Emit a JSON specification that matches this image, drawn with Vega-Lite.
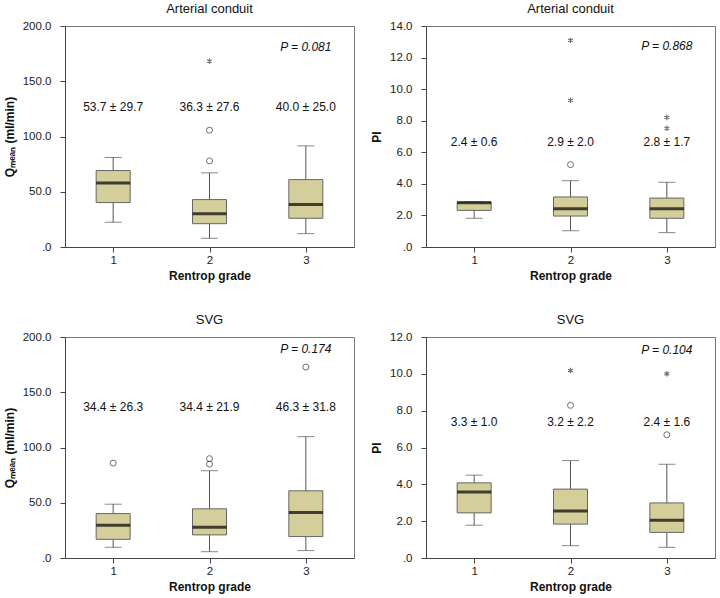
{
"$schema": "https://vega.github.io/schema/vega-lite/v6.json",
"padding": {"left": 2, "top": 2, "right": 5, "bottom": 5},
"background": "white",
"datasets": {
"boxes": [
{"panel":"A","grade":"1","low":22.4,"q1":40.2,"median":58.0,"q3":69.2,"high":81.0},
{"panel":"A","grade":"2","low":7.9,"q1":21.1,"median":30.2,"q3":42.9,"high":67.1},
{"panel":"A","grade":"3","low":12.1,"q1":26.0,"median":38.4,"q3":61.0,"high":91.5},
{"panel":"B","grade":"1","low":1.82,"q1":2.32,"median":2.80,"q3":2.85,"high":2.85},
{"panel":"B","grade":"2","low":1.03,"q1":1.96,"median":2.43,"q3":3.17,"high":4.20},
{"panel":"B","grade":"3","low":0.91,"q1":1.82,"median":2.43,"q3":3.10,"high":4.10},
{"panel":"C","grade":"1","low":9.7,"q1":16.9,"median":29.7,"q3":40.2,"high":48.7},
{"panel":"C","grade":"2","low":5.7,"q1":20.9,"median":27.8,"q3":44.5,"high":79.0},
{"panel":"C","grade":"3","low":6.7,"q1":19.4,"median":41.1,"q3":60.8,"high":109.8},
{"panel":"D","grade":"1","low":1.78,"q1":2.45,"median":3.58,"q3":4.08,"high":4.50},
{"panel":"D","grade":"2","low":0.67,"q1":1.84,"median":2.55,"q3":3.74,"high":5.29},
{"panel":"D","grade":"3","low":0.58,"q1":1.39,"median":2.05,"q3":2.99,"high":5.09}
],
"outliers": [
{"panel":"A","grade":"2","value":105.7,"kind":"circle"},
{"panel":"A","grade":"2","value":77.9,"kind":"circle"},
{"panel":"A","grade":"2","value":168.3,"kind":"star"},
{"panel":"B","grade":"2","value":5.22,"kind":"circle"},
{"panel":"B","grade":"2","value":9.29,"kind":"star"},
{"panel":"B","grade":"2","value":13.09,"kind":"star"},
{"panel":"B","grade":"3","value":8.21,"kind":"star"},
{"panel":"B","grade":"3","value":7.52,"kind":"star"},
{"panel":"C","grade":"1","value":85.9,"kind":"circle"},
{"panel":"C","grade":"2","value":89.9,"kind":"circle"},
{"panel":"C","grade":"2","value":85.0,"kind":"circle"},
{"panel":"C","grade":"3","value":172.8,"kind":"circle"},
{"panel":"D","grade":"2","value":8.29,"kind":"circle"},
{"panel":"D","grade":"2","value":10.18,"kind":"star"},
{"panel":"D","grade":"3","value":6.69,"kind":"circle"},
{"panel":"D","grade":"3","value":10.0,"kind":"star"}
],
"labels": [
{"panel":"A","grade":"1","y":126.6,"label":"53.7 ± 29.7","kind":"mean"},
{"panel":"A","grade":"2","y":126.6,"label":"36.3 ± 27.6","kind":"mean"},
{"panel":"A","grade":"3","y":126.6,"label":"40.0 ± 25.0","kind":"mean"},
{"panel":"A","grade":"3","y":181.3,"label":"P = 0.081","kind":"p"},
{"panel":"B","grade":"1","y":6.65,"label":"2.4 ± 0.6","kind":"mean"},
{"panel":"B","grade":"2","y":6.65,"label":"2.9 ± 2.0","kind":"mean"},
{"panel":"B","grade":"3","y":6.65,"label":"2.8 ± 1.7","kind":"mean"},
{"panel":"B","grade":"3","y":12.73,"label":"P = 0.868","kind":"p"},
{"panel":"C","grade":"1","y":136.2,"label":"34.4 ± 26.3","kind":"mean"},
{"panel":"C","grade":"2","y":136.2,"label":"34.4 ± 21.9","kind":"mean"},
{"panel":"C","grade":"3","y":136.2,"label":"46.3 ± 31.8","kind":"mean"},
{"panel":"C","grade":"3","y":189.1,"label":"P = 0.174","kind":"p"},
{"panel":"D","grade":"1","y":7.36,"label":"3.3 ± 1.0","kind":"mean"},
{"panel":"D","grade":"2","y":7.36,"label":"3.2 ± 2.2","kind":"mean"},
{"panel":"D","grade":"3","y":7.36,"label":"2.4 ± 1.6","kind":"mean"},
{"panel":"D","grade":"3","y":11.32,"label":"P = 0.104","kind":"p"}
]
},
"columns": 2,
"spacing": {"row": 31, "column": 15},
"concat": [
{
"title": "Arterial conduit", "width": 289, "height": 221,
"encoding": {"x": {"field":"grade","type":"nominal","scale":{"type":"point","padding":0.5,"domain":["1","2","3"]},"axis":{"title":"Rentrop grade","labelAngle":0}}},
"layer": [
{"data":{"name":"boxes"},"transform":[{"filter":"datum.panel==='A'"}],"mark":{"type":"rule","color":"#555","strokeWidth":1},"encoding":{"y":{"field":"low","type":"quantitative","title":"Qₘₑₐₙ (ml/min)","scale":{"domain":[0,200],"nice":false},"axis":{"values":[0,50,100,150,200]}},"y2":{"field":"high"}}},
{"data":{"name":"boxes"},"transform":[{"filter":"datum.panel==='A'"}],"mark":{"type":"tick","size":17,"thickness":1,"color":"#555"},"encoding":{"y":{"field":"low","type":"quantitative","title":"Qₘₑₐₙ (ml/min)","axis":{"values":[0,50,100,150,200]}}}},
{"data":{"name":"boxes"},"transform":[{"filter":"datum.panel==='A'"}],"mark":{"type":"tick","size":17,"thickness":1,"color":"#555"},"encoding":{"y":{"field":"high","type":"quantitative","title":"Qₘₑₐₙ (ml/min)","axis":{"values":[0,50,100,150,200]}}}},
{"data":{"name":"boxes"},"transform":[{"filter":"datum.panel==='A'"}],"mark":{"type":"bar","size":34,"fill":"#d4cf9a","stroke":"#666","strokeWidth":1},"encoding":{"y":{"field":"q1","type":"quantitative","title":"Qₘₑₐₙ (ml/min)","axis":{"values":[0,50,100,150,200]}},"y2":{"field":"q3"}}},
{"data":{"name":"boxes"},"transform":[{"filter":"datum.panel==='A'"}],"mark":{"type":"tick","size":34,"thickness":3,"color":"#000"},"encoding":{"y":{"field":"median","type":"quantitative","title":"Qₘₑₐₙ (ml/min)","axis":{"values":[0,50,100,150,200]}}}},
{"data":{"name":"outliers"},"transform":[{"filter":"datum.panel==='A' && datum.kind==='circle'"}],"mark":{"type":"point","shape":"circle","filled":false,"size":36,"stroke":"#333","strokeWidth":1},"encoding":{"y":{"field":"value","type":"quantitative","title":"Qₘₑₐₙ (ml/min)","axis":{"values":[0,50,100,150,200]}}}},
{"data":{"name":"outliers"},"transform":[{"filter":"datum.panel==='A' && datum.kind==='star'"}],"mark":{"type":"point","shape":"M0,-1L0,1M-0.87,-0.5L0.87,0.5M-0.87,0.5L0.87,-0.5","filled":false,"size":30,"stroke":"#333","strokeWidth":1.2},"encoding":{"y":{"field":"value","type":"quantitative","title":"Qₘₑₐₙ (ml/min)","axis":{"values":[0,50,100,150,200]}}}},
{"data":{"name":"labels"},"transform":[{"filter":"datum.panel==='A' && datum.kind==='mean'"}],"mark":{"type":"text","fontSize":12,"baseline":"middle","color":"#111"},"encoding":{"y":{"field":"y","type":"quantitative","title":"Qₘₑₐₙ (ml/min)","axis":{"values":[0,50,100,150,200]}},"text":{"field":"label"}}},
{"data":{"name":"labels"},"transform":[{"filter":"datum.panel==='A' && datum.kind==='p'"}],"mark":{"type":"text","fontSize":12,"fontStyle":"italic","baseline":"middle","color":"#111"},"encoding":{"y":{"field":"y","type":"quantitative","title":"Qₘₑₐₙ (ml/min)","axis":{"values":[0,50,100,150,200]}},"text":{"field":"label"}}}
]
},
{
"title": "Arterial conduit", "width": 289, "height": 221,
"encoding": {"x": {"field":"grade","type":"nominal","scale":{"type":"point","padding":0.5,"domain":["1","2","3"]},"axis":{"title":"Rentrop grade","labelAngle":0}}},
"layer": [
{"data":{"name":"boxes"},"transform":[{"filter":"datum.panel==='B'"}],"mark":{"type":"rule","color":"#555","strokeWidth":1},"encoding":{"y":{"field":"low","type":"quantitative","title":"PI","scale":{"domain":[0,14],"nice":false},"axis":{"values":[0,2,4,6,8,10,12,14]}},"y2":{"field":"high"}}},
{"data":{"name":"boxes"},"transform":[{"filter":"datum.panel==='B'"}],"mark":{"type":"tick","size":17,"thickness":1,"color":"#555"},"encoding":{"y":{"field":"low","type":"quantitative","title":"PI","axis":{"values":[0,2,4,6,8,10,12,14]}}}},
{"data":{"name":"boxes"},"transform":[{"filter":"datum.panel==='B'"}],"mark":{"type":"tick","size":17,"thickness":1,"color":"#555"},"encoding":{"y":{"field":"high","type":"quantitative","title":"PI","axis":{"values":[0,2,4,6,8,10,12,14]}}}},
{"data":{"name":"boxes"},"transform":[{"filter":"datum.panel==='B'"}],"mark":{"type":"bar","size":34,"fill":"#d4cf9a","stroke":"#666","strokeWidth":1},"encoding":{"y":{"field":"q1","type":"quantitative","title":"PI","axis":{"values":[0,2,4,6,8,10,12,14]}},"y2":{"field":"q3"}}},
{"data":{"name":"boxes"},"transform":[{"filter":"datum.panel==='B'"}],"mark":{"type":"tick","size":34,"thickness":3,"color":"#000"},"encoding":{"y":{"field":"median","type":"quantitative","title":"PI","axis":{"values":[0,2,4,6,8,10,12,14]}}}},
{"data":{"name":"outliers"},"transform":[{"filter":"datum.panel==='B' && datum.kind==='circle'"}],"mark":{"type":"point","shape":"circle","filled":false,"size":36,"stroke":"#333","strokeWidth":1},"encoding":{"y":{"field":"value","type":"quantitative","title":"PI","axis":{"values":[0,2,4,6,8,10,12,14]}}}},
{"data":{"name":"outliers"},"transform":[{"filter":"datum.panel==='B' && datum.kind==='star'"}],"mark":{"type":"point","shape":"M0,-1L0,1M-0.87,-0.5L0.87,0.5M-0.87,0.5L0.87,-0.5","filled":false,"size":30,"stroke":"#333","strokeWidth":1.2},"encoding":{"y":{"field":"value","type":"quantitative","title":"PI","axis":{"values":[0,2,4,6,8,10,12,14]}}}},
{"data":{"name":"labels"},"transform":[{"filter":"datum.panel==='B' && datum.kind==='mean'"}],"mark":{"type":"text","fontSize":12,"baseline":"middle","color":"#111"},"encoding":{"y":{"field":"y","type":"quantitative","title":"PI","axis":{"values":[0,2,4,6,8,10,12,14]}},"text":{"field":"label"}}},
{"data":{"name":"labels"},"transform":[{"filter":"datum.panel==='B' && datum.kind==='p'"}],"mark":{"type":"text","fontSize":12,"fontStyle":"italic","baseline":"middle","color":"#111"},"encoding":{"y":{"field":"y","type":"quantitative","title":"PI","axis":{"values":[0,2,4,6,8,10,12,14]}},"text":{"field":"label"}}}
]
},
{
"title": "SVG", "width": 289, "height": 221,
"encoding": {"x": {"field":"grade","type":"nominal","scale":{"type":"point","padding":0.5,"domain":["1","2","3"]},"axis":{"title":"Rentrop grade","labelAngle":0}}},
"layer": [
{"data":{"name":"boxes"},"transform":[{"filter":"datum.panel==='C'"}],"mark":{"type":"rule","color":"#555","strokeWidth":1},"encoding":{"y":{"field":"low","type":"quantitative","title":"Qₘₑₐₙ (ml/min)","scale":{"domain":[0,200],"nice":false},"axis":{"values":[0,50,100,150,200]}},"y2":{"field":"high"}}},
{"data":{"name":"boxes"},"transform":[{"filter":"datum.panel==='C'"}],"mark":{"type":"tick","size":17,"thickness":1,"color":"#555"},"encoding":{"y":{"field":"low","type":"quantitative","title":"Qₘₑₐₙ (ml/min)","axis":{"values":[0,50,100,150,200]}}}},
{"data":{"name":"boxes"},"transform":[{"filter":"datum.panel==='C'"}],"mark":{"type":"tick","size":17,"thickness":1,"color":"#555"},"encoding":{"y":{"field":"high","type":"quantitative","title":"Qₘₑₐₙ (ml/min)","axis":{"values":[0,50,100,150,200]}}}},
{"data":{"name":"boxes"},"transform":[{"filter":"datum.panel==='C'"}],"mark":{"type":"bar","size":34,"fill":"#d4cf9a","stroke":"#666","strokeWidth":1},"encoding":{"y":{"field":"q1","type":"quantitative","title":"Qₘₑₐₙ (ml/min)","axis":{"values":[0,50,100,150,200]}},"y2":{"field":"q3"}}},
{"data":{"name":"boxes"},"transform":[{"filter":"datum.panel==='C'"}],"mark":{"type":"tick","size":34,"thickness":3,"color":"#000"},"encoding":{"y":{"field":"median","type":"quantitative","title":"Qₘₑₐₙ (ml/min)","axis":{"values":[0,50,100,150,200]}}}},
{"data":{"name":"outliers"},"transform":[{"filter":"datum.panel==='C' && datum.kind==='circle'"}],"mark":{"type":"point","shape":"circle","filled":false,"size":36,"stroke":"#333","strokeWidth":1},"encoding":{"y":{"field":"value","type":"quantitative","title":"Qₘₑₐₙ (ml/min)","axis":{"values":[0,50,100,150,200]}}}},
{"data":{"name":"labels"},"transform":[{"filter":"datum.panel==='C' && datum.kind==='mean'"}],"mark":{"type":"text","fontSize":12,"baseline":"middle","color":"#111"},"encoding":{"y":{"field":"y","type":"quantitative","title":"Qₘₑₐₙ (ml/min)","axis":{"values":[0,50,100,150,200]}},"text":{"field":"label"}}},
{"data":{"name":"labels"},"transform":[{"filter":"datum.panel==='C' && datum.kind==='p'"}],"mark":{"type":"text","fontSize":12,"fontStyle":"italic","baseline":"middle","color":"#111"},"encoding":{"y":{"field":"y","type":"quantitative","title":"Qₘₑₐₙ (ml/min)","axis":{"values":[0,50,100,150,200]}},"text":{"field":"label"}}}
]
},
{
"title": "SVG", "width": 289, "height": 221,
"encoding": {"x": {"field":"grade","type":"nominal","scale":{"type":"point","padding":0.5,"domain":["1","2","3"]},"axis":{"title":"Rentrop grade","labelAngle":0}}},
"layer": [
{"data":{"name":"boxes"},"transform":[{"filter":"datum.panel==='D'"}],"mark":{"type":"rule","color":"#555","strokeWidth":1},"encoding":{"y":{"field":"low","type":"quantitative","title":"PI","scale":{"domain":[0,12],"nice":false},"axis":{"values":[0,2,4,6,8,10,12]}},"y2":{"field":"high"}}},
{"data":{"name":"boxes"},"transform":[{"filter":"datum.panel==='D'"}],"mark":{"type":"tick","size":17,"thickness":1,"color":"#555"},"encoding":{"y":{"field":"low","type":"quantitative","title":"PI","axis":{"values":[0,2,4,6,8,10,12]}}}},
{"data":{"name":"boxes"},"transform":[{"filter":"datum.panel==='D'"}],"mark":{"type":"tick","size":17,"thickness":1,"color":"#555"},"encoding":{"y":{"field":"high","type":"quantitative","title":"PI","axis":{"values":[0,2,4,6,8,10,12]}}}},
{"data":{"name":"boxes"},"transform":[{"filter":"datum.panel==='D'"}],"mark":{"type":"bar","size":34,"fill":"#d4cf9a","stroke":"#666","strokeWidth":1},"encoding":{"y":{"field":"q1","type":"quantitative","title":"PI","axis":{"values":[0,2,4,6,8,10,12]}},"y2":{"field":"q3"}}},
{"data":{"name":"boxes"},"transform":[{"filter":"datum.panel==='D'"}],"mark":{"type":"tick","size":34,"thickness":3,"color":"#000"},"encoding":{"y":{"field":"median","type":"quantitative","title":"PI","axis":{"values":[0,2,4,6,8,10,12]}}}},
{"data":{"name":"outliers"},"transform":[{"filter":"datum.panel==='D' && datum.kind==='circle'"}],"mark":{"type":"point","shape":"circle","filled":false,"size":36,"stroke":"#333","strokeWidth":1},"encoding":{"y":{"field":"value","type":"quantitative","title":"PI","axis":{"values":[0,2,4,6,8,10,12]}}}},
{"data":{"name":"outliers"},"transform":[{"filter":"datum.panel==='D' && datum.kind==='star'"}],"mark":{"type":"point","shape":"M0,-1L0,1M-0.87,-0.5L0.87,0.5M-0.87,0.5L0.87,-0.5","filled":false,"size":30,"stroke":"#333","strokeWidth":1.2},"encoding":{"y":{"field":"value","type":"quantitative","title":"PI","axis":{"values":[0,2,4,6,8,10,12]}}}},
{"data":{"name":"labels"},"transform":[{"filter":"datum.panel==='D' && datum.kind==='mean'"}],"mark":{"type":"text","fontSize":12,"baseline":"middle","color":"#111"},"encoding":{"y":{"field":"y","type":"quantitative","title":"PI","axis":{"values":[0,2,4,6,8,10,12]}},"text":{"field":"label"}}},
{"data":{"name":"labels"},"transform":[{"filter":"datum.panel==='D' && datum.kind==='p'"}],"mark":{"type":"text","fontSize":12,"fontStyle":"italic","baseline":"middle","color":"#111"},"encoding":{"y":{"field":"y","type":"quantitative","title":"PI","axis":{"values":[0,2,4,6,8,10,12]}},"text":{"field":"label"}}}
]
}
],
"config": {
"font": "Liberation Sans",
"view": {"stroke": "#777", "strokeWidth": 1},
"title": {"font": "Liberation Sans", "fontSize": 13, "fontWeight": "normal", "color": "#111", "offset": 4},
"text": {"font": "Liberation Sans"},
"axis": {"grid": false, "labelFont": "Liberation Sans", "labelFontSize": 11.5, "labelColor": "#222", "titleFont": "Liberation Sans", "titleFontSize": 12, "titleFontWeight": "bold", "titleColor": "#111", "domainColor": "#444", "tickColor": "#444", "tickSize": 5, "labelOverlap": false},
"axisY": {"labelPadding": 9, "titlePadding": 6, "labelExpr": "datum.value === 0 ? '.0' : format(datum.value, '.1f')"},
"axisX": {"labelPadding": 2, "titlePadding": 5}
}
}
